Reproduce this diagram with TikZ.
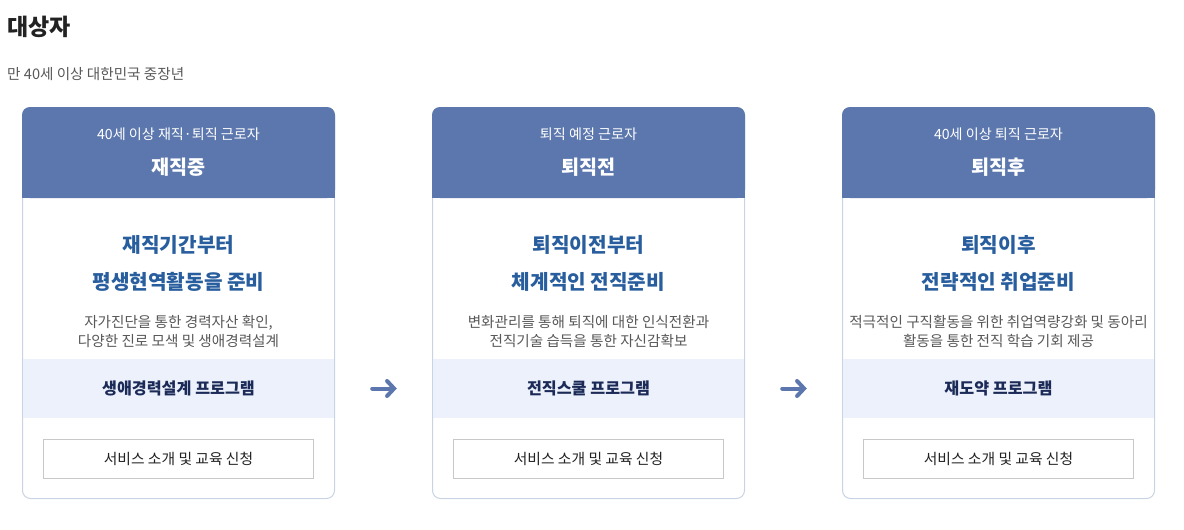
\documentclass[tikz,border=0pt]{standalone}
\usepackage{fontspec}
\setmainfont{Noto Sans CJK KR}
\usepackage{xcolor}
\usepackage{tikz}
\usetikzlibrary{positioning, arrows.meta, calc}
\definecolor{headcolor}{RGB}{91,119,173}
\definecolor{cardborder}{RGB}{200,212,228}
\definecolor{headlinecolor}{RGB}{40,94,158}
\definecolor{bandcolor}{RGB}{236,241,251}
\definecolor{bandtext}{RGB}{27,42,87}
\definecolor{desccolor}{RGB}{88,88,88}
\definecolor{titlecolor}{RGB}{34,34,34}
\definecolor{btnborder}{RGB}{200,200,200}
\definecolor{arrowcolor}{RGB}{91,119,173}

\begin{document}
\begin{tikzpicture}[
    x=1pt, y=-1pt,
    arrow/.style={-{Straight Barb[length=7pt, width=15pt, line cap=round]}, line width=4pt, line cap=round, color=arrowcolor},
    card/.style={
        rectangle,
        rounded corners=8pt,
        minimum width=312pt,
        minimum height=391pt,
        inner sep=0pt,
        draw=cardborder,
        line width=1pt,
        fill=white
    },
    headsub/.style={text=white, font=\fontsize{14.1}{17}\selectfont},
    headtitle/.style={text=white, font=\fontsize{19.6}{23}\selectfont\bfseries},
    headline/.style={text=headlinecolor, align=center, font=\fontsize{20.2}{37}\selectfont\bfseries},
    desc/.style={text=desccolor, align=center, font=\fontsize{14.6}{19}\selectfont},
    band/.style={
        rectangle,
        minimum width=311pt,
        minimum height=59pt,
        inner sep=0pt,
        fill=bandcolor,
        text=bandtext,
        font=\fontsize{16.2}{19}\selectfont\bfseries
    },
    button/.style={
        rectangle,
        minimum width=270pt,
        minimum height=39pt,
        inner sep=0pt,
        draw=btnborder,
        line width=1pt,
        fill=white,
        text=titlecolor,
        font=\fontsize{14.8}{17}\selectfont
    }
]
\useasboundingbox (0,0) rectangle (1184,530);

%% Title %%
\node (title) [anchor=west, inner sep=0pt, text=titlecolor, font=\fontsize{23}{26}\selectfont\bfseries] at (7,27) {대상자};
\node (subtitle) [anchor=west, inner sep=0pt, text=desccolor, font=\fontsize{14.6}{17}\selectfont] at (7,74) {만 40세 이상 대한민국 중장년};

%% CARDS %%
\node (card1) [card, anchor=north west] at (22,107) {};
\node (card2) [card, right=97pt of card1] {};
\node (card3) [card, right=97pt of card2] {};

%% Headers (rounded top, square bottom) %%
\fill [headcolor, rounded corners=8pt] (card1.north west) rectangle ([yshift=-91pt]card1.north east);
\fill [headcolor] ([yshift=-20pt]card1.north west) rectangle ([yshift=-91pt]card1.north east);
\fill [headcolor, rounded corners=8pt] (card2.north west) rectangle ([yshift=-91pt]card2.north east);
\fill [headcolor] ([yshift=-20pt]card2.north west) rectangle ([yshift=-91pt]card2.north east);
\fill [headcolor, rounded corners=8pt] (card3.north west) rectangle ([yshift=-91pt]card3.north east);
\fill [headcolor] ([yshift=-20pt]card3.north west) rectangle ([yshift=-91pt]card3.north east);

%% Card 1 - 재직중 %%
\node (sub1) [headsub] at ([yshift=-27pt]card1.north) {40세 이상 재직·퇴직 근로자};
\node (head1) [headtitle] at ([yshift=-60pt]card1.north) {재직중};
\node (line1) [headline] at ([yshift=-156.5pt]card1.north) {재직기간부터\\평생현역활동을 준비};
\node (desc1) [desc] at ([yshift=-224.5pt]card1.north) {자가진단을 통한 경력자산 확인,\\다양한 진로 모색 및 생애경력설계};
\node (band1) [band] at ([yshift=-281.5pt]card1.north) {생애경력설계 프로그램};
\node (btn1) [button] at ([yshift=-351.5pt]card1.north) {서비스 소개 및 교육 신청};

%% Card 2 - 퇴직전 %%
\node (sub2) [headsub] at ([yshift=-27pt]card2.north) {퇴직 예정 근로자};
\node (head2) [headtitle] at ([yshift=-60pt]card2.north) {퇴직전};
\node (line2) [headline] at ([yshift=-156.5pt]card2.north) {퇴직이전부터\\체계적인 전직준비};
\node (desc2) [desc] at ([yshift=-224.5pt]card2.north) {변화관리를 통해 퇴직에 대한 인식전환과\\전직기술 습득을 통한 자신감확보};
\node (band2) [band] at ([yshift=-281.5pt]card2.north) {전직스쿨 프로그램};
\node (btn2) [button] at ([yshift=-351.5pt]card2.north) {서비스 소개 및 교육 신청};

%% Card 3 - 퇴직후 %%
\node (sub3) [headsub] at ([yshift=-27pt]card3.north) {40세 이상 퇴직 근로자};
\node (head3) [headtitle] at ([yshift=-60pt]card3.north) {퇴직후};
\node (line3) [headline] at ([yshift=-156.5pt]card3.north) {퇴직이후\\전략적인 취업준비};
\node (desc3) [desc] at ([yshift=-224.5pt]card3.north) {적극적인 구직활동을 위한 취업역량강화 및 동아리\\활동을 통한 전직 학습 기회 제공};
\node (band3) [band] at ([yshift=-281.5pt]card3.north) {재도약 프로그램};
\node (btn3) [button] at ([yshift=-351.5pt]card3.north) {서비스 소개 및 교육 신청};

%% ARROWS %%
\draw [arrow, shorten <=38pt, shorten >=36pt] (band1.east) -- (band2.west);
\draw [arrow, shorten <=38pt, shorten >=36pt] (band2.east) -- (band3.west);

\end{tikzpicture}
\end{document}
